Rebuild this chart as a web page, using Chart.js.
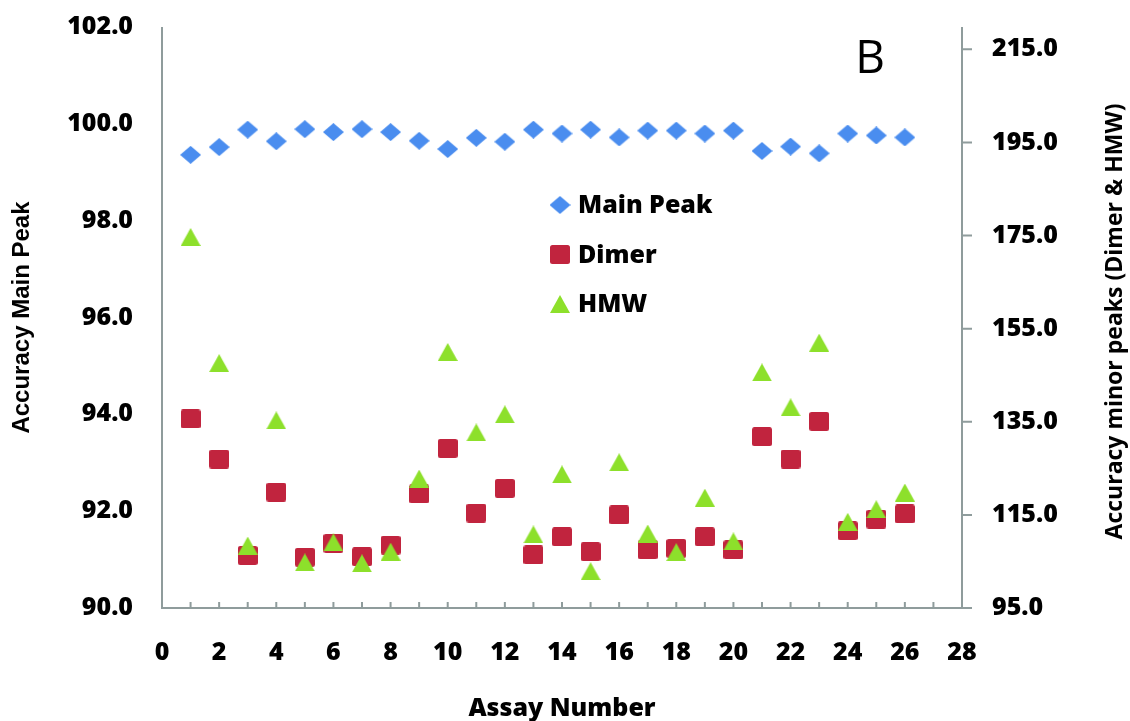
<!DOCTYPE html>
<html>
<head>
<meta charset="utf-8">
<title>Accuracy by assay</title>
<style>
  html, body { margin: 0; padding: 0; background: #ffffff; }
  #wrap { width: 1130px; height: 721px; position: relative; }
</style>
<script src="https://cdn.jsdelivr.net/npm/chart.js@4.4.1/dist/chart.umd.min.js"></script>
</head>
<body>
<div id="wrap"><canvas id="chart" width="1130" height="721"></canvas></div>
<script>
// ---- data ----
const assayNumbers = [1, 2, 3, 4, 5, 6, 7, 8, 9, 10, 11, 12, 13, 14, 15, 16, 17, 18, 19, 20, 21, 22, 23, 24, 25, 26];
const mainPeak = [99.36, 99.52, 99.88, 99.64, 99.89, 99.83, 99.89, 99.83, 99.65, 99.48, 99.71, 99.63, 99.88,
                  99.80, 99.88, 99.72, 99.86, 99.86, 99.80, 99.86, 99.44, 99.53, 99.39, 99.80, 99.76, 99.72];
const dimer = [135.6, 127.0, 106.3, 119.9, 105.9, 108.9, 106.0, 108.5, 119.5, 129.3, 115.4, 120.7, 106.4,
               110.3, 107.1, 115.0, 107.5, 107.8, 110.3, 107.5, 131.8, 127.0, 135.1, 111.6, 114.1, 115.2];
const hmw = [174.7, 147.6, 108.4, 135.3, 104.8, 109.1, 104.6, 107.1, 122.8, 150.0, 132.7, 136.6, 110.8,
             123.7, 102.9, 126.3, 111.0, 107.0, 118.7, 109.3, 145.6, 138.1, 152.0, 113.5, 116.2, 119.8];

const xTicks = [0, 2, 4, 6, 8, 10, 12, 14, 16, 18, 20, 22, 24, 26, 28];
const leftTicks = [90, 92, 94, 96, 98, 100, 102];
const rightTicks = [95, 115, 135, 155, 175, 195, 215];

const seriesNames = ['Main Peak', 'Dimer', 'HMW'];
const xTitle = 'Assay Number';
const leftTitle = 'Accuracy Main Peak';
const rightTitle = 'Accuracy minor peaks (Dimer & HMW)';
const panelLetter = 'B';

// ---- styling ----
const BLUE = '#4a8def';
const RED = '#c1243e';
const GREEN = '#8de02b';
const AXIS = '#8f9c9c';
const TICK_FONT = { family: '"Open Sans", sans-serif', size: 25, weight: 800 };

// marker images
function makeMarker(w, h, color, shape) {
  const c = document.createElement('canvas');
  c.width = w; c.height = h;
  const g = c.getContext('2d');
  g.fillStyle = color;
  g.beginPath();
  if (shape === 'diamond') {
    g.moveTo(w / 2, 0); g.lineTo(w, h / 2); g.lineTo(w / 2, h); g.lineTo(0, h / 2);
  } else if (shape === 'triangle') {
    g.moveTo(w / 2, 0); g.lineTo(w, h); g.lineTo(0, h);
  } else {
    const r = 2.5;
    g.moveTo(r, 0); g.lineTo(w - r, 0); g.quadraticCurveTo(w, 0, w, r);
    g.lineTo(w, h - r); g.quadraticCurveTo(w, h, w - r, h);
    g.lineTo(r, h); g.quadraticCurveTo(0, h, 0, h - r);
    g.lineTo(0, r); g.quadraticCurveTo(0, 0, r, 0);
  }
  g.closePath();
  g.fill();
  return c;
}
const diamondImg = makeMarker(21, 18, BLUE, 'diamond');
const squareImg = makeMarker(20, 19, RED, 'square');
const triangleImg = makeMarker(20, 18, GREEN, 'triangle');

const toPoints = (ys) => assayNumbers.map((x, i) => ({ x: x, y: ys[i] }));
const setTicks = (values) => (scale) => { scale.ticks = values.map(v => ({ value: v })); };
// fixed box width for a vertical axis; no extra space reserved above/below for its labels
const fixWidth = (w) => (s) => { s.width = w; s.paddingTop = 0; s.paddingBottom = 0; };

// axis frame, minor ticks, right-hand title, legend and panel letter
const decorations = {
  id: 'decorations',
  beforeDatasetsDraw(chart) {
    const { ctx, chartArea, scales } = chart;
    const { left, right, top, bottom } = chartArea;
    ctx.save();
    ctx.strokeStyle = AXIS;
    ctx.lineWidth = 2;
    ctx.beginPath();
    ctx.moveTo(left, top); ctx.lineTo(left, bottom); ctx.lineTo(right, bottom); ctx.lineTo(right, top);
    for (let v = 1; v < 28; v++) {
      const px = scales.x.getPixelForValue(v);
      ctx.moveTo(px, bottom); ctx.lineTo(px, bottom - 6);
    }
    rightTicks.forEach(v => {
      const py = scales.y2.getPixelForValue(v);
      ctx.moveTo(right, py); ctx.lineTo(right + 10, py);
    });
    ctx.stroke();
    ctx.restore();
  },
  afterDraw(chart) {
    const { ctx, chartArea } = chart;
    ctx.save();
    ctx.fillStyle = '#000000';
    // right axis title, reading bottom to top
    ctx.translate(1115, (chartArea.top + chartArea.bottom) / 2 + 4);
    ctx.rotate(-Math.PI / 2);
    ctx.font = 'bold 23px "Open Sans", sans-serif';
    ctx.textAlign = 'center';
    ctx.textBaseline = 'middle';
    ctx.fillText(rightTitle, 0, 0);
    ctx.restore();

    ctx.save();
    ctx.fillStyle = '#000000';
    ctx.font = '46px "Open Sans", sans-serif';
    ctx.textAlign = 'center';
    ctx.textBaseline = 'middle';
    ctx.fillText(panelLetter, 870, 60);

    // legend
    const imgs = [diamondImg, squareImg, triangleImg];
    const rowY = [205, 254.5, 304];
    ctx.font = '800 25px "Open Sans", sans-serif';
    ctx.textAlign = 'left';
    seriesNames.forEach((name, i) => {
      const img = imgs[i];
      ctx.drawImage(img, 560 - img.width / 2, rowY[i] - img.height / 2);
      ctx.fillText(name, 578, rowY[i] + 1);
    });
    ctx.restore();
  }
};

new Chart(document.getElementById('chart'), {
  type: 'scatter',
  data: {
    datasets: [
      { label: seriesNames[0], data: toPoints(mainPeak), yAxisID: 'y', pointStyle: diamondImg, order: 2 },
      { label: seriesNames[1], data: toPoints(dimer), yAxisID: 'y2', pointStyle: squareImg, order: 1 },
      { label: seriesNames[2], data: toPoints(hmw), yAxisID: 'y2', pointStyle: triangleImg, order: 0 }
    ]
  },
  options: {
    responsive: false,
    animation: false,
    devicePixelRatio: 1,
    layout: { padding: { top: 27, left: 0, right: 0, bottom: 0 } },
    plugins: { legend: { display: false }, tooltip: { enabled: false } },
    events: [],
    scales: {
      x: {
        type: 'linear', position: 'bottom', min: 0, max: 28,
        afterBuildTicks: setTicks(xTicks),
        afterFit: (s) => { s.height = 113; },
        grid: { display: false, drawTicks: false, tickLength: 0 },
        border: { display: false },
        ticks: { font: TICK_FONT, color: '#000', padding: 30, autoSkip: false, maxRotation: 0,
                 callback: (v) => String(v) },
        title: { display: true, text: xTitle, color: '#000',
                 font: { family: '"Open Sans", sans-serif', size: 25, weight: 800, lineHeight: 1 },
                 padding: { top: 0, bottom: 0 } }
      },
      y: {
        type: 'linear', position: 'left', min: 90, max: 102,
        afterBuildTicks: setTicks(leftTicks),
        afterFit: fixWidth(162),
        grid: { display: false, drawTicks: false, tickLength: 0 },
        border: { display: false },
        ticks: { font: TICK_FONT, color: '#000', padding: 29, callback: (v) => Number(v).toFixed(1) },
        title: { display: true, text: leftTitle, color: '#000',
                 font: { family: '"Liberation Sans", Arial, sans-serif', size: 24, weight: 'bold', lineHeight: 1 },
                 padding: { top: 10, bottom: 10 } }
      },
      y2: {
        type: 'linear', position: 'right', min: 95, max: 219.8,
        afterBuildTicks: setTicks(rightTicks),
        afterFit: fixWidth(168),
        grid: { display: false, drawTicks: false, tickLength: 0 },
        border: { display: false },
        ticks: { font: TICK_FONT, color: '#000', padding: 30, callback: (v) => Number(v).toFixed(1) }
      }
    }
  },
  plugins: [decorations]
});
</script>
</body>
</html>
